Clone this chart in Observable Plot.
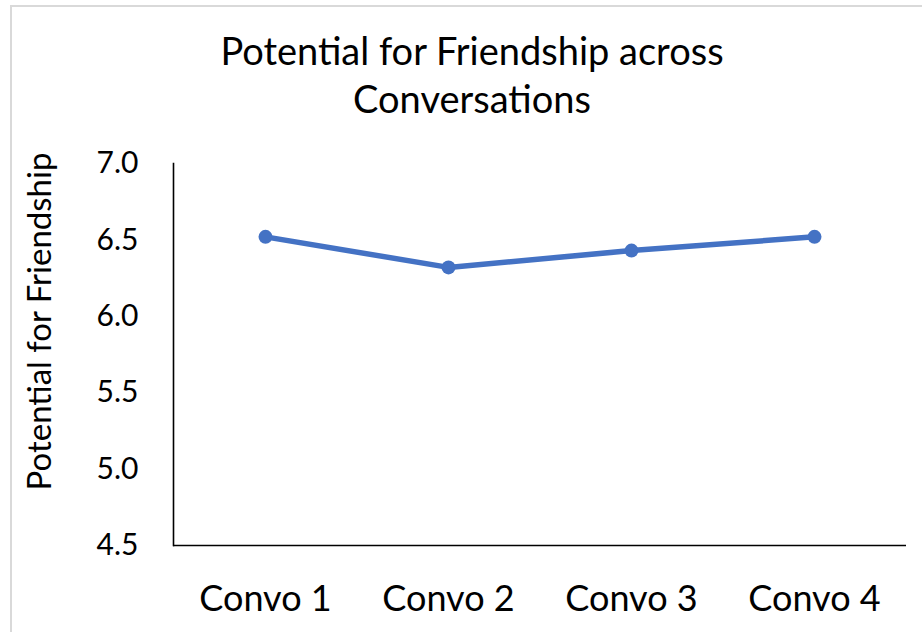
<!DOCTYPE html>
<html>
<head>
<meta charset="utf-8">
<script src="https://cdn.jsdelivr.net/npm/d3@7"></script>
<script src="https://cdn.jsdelivr.net/npm/@observablehq/plot@0.6"></script>
<style>
  html, body { margin: 0; padding: 0; background: #fff; overflow: hidden; }
  #wrap { position: relative; width: 922px; height: 632px; font-family: "Lato", sans-serif; }
  #border { position: absolute; left: 10px; top: 5px; width: 1000px; height: 700px;
            border-left: 2px solid #d9d9d9; border-top: 2px solid #d9d9d9; box-sizing: border-box; }
  #title { position: relative; box-sizing: border-box; width: 922px; height: 130px;
           padding-top: 26px; padding-left: 22px; text-align: center;
           font-size: 38px; line-height: 48px; color: #000; }
  #chart { position: relative; }
</style>
</head>
<body>
<div id="wrap">
  <div id="border"></div>
  <div id="title">Potential for Friendship across<br>Conversations</div>
  <div id="chart"></div>
</div>
<script>
const conversations = ["Convo 1", "Convo 2", "Convo 3", "Convo 4"];
const friendship = [6.52, 6.32, 6.43, 6.52];
const yTicks = [4.5, 5.0, 5.5, 6.0, 6.5, 7.0];
const yLabel = "Potential for Friendship";

const data = conversations.map((c, i) => ({convo: c, value: friendship[i]}));
const blue = "#4472C4";

const chart = Plot.plot({
  width: 922,
  height: 502,
  marginLeft: 173,
  marginRight: 16,
  marginTop: 33,
  marginBottom: 87,
  style: {fontFamily: "Lato, sans-serif", color: "#000", background: "transparent", overflow: "visible"},
  x: {type: "point", domain: conversations, padding: 0.5},
  y: {domain: [4.5, 7.0]},
  marks: [
    Plot.axisY({ticks: yTicks, tickFormat: d3.format(".1f"), tickSize: 0, tickPadding: 35, fontSize: 30, label: null}),
    Plot.axisX({tickSize: 0, tickPadding: 40, fontSize: 36, label: null}),
    Plot.text([yLabel], {frameAnchor: "left", textAnchor: "middle", rotate: -90, dx: -133, dy: -33, fontSize: 33, fill: "#000"}),
    Plot.ruleY([4.5], {stroke: "#000", strokeWidth: 1.6}),
    Plot.frame({anchor: "left", stroke: "#000", strokeWidth: 1.6}),
    Plot.line(data, {x: "convo", y: "value", stroke: blue, strokeWidth: 5.5}),
    Plot.dot(data, {x: "convo", y: "value", fill: blue, r: 7})
  ]
});
document.getElementById("chart").appendChild(chart);
</script>
</body>
</html>
